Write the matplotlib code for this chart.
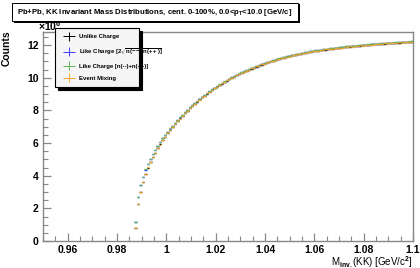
import matplotlib
matplotlib.use("Agg")
import matplotlib.pyplot as plt
from matplotlib.patches import Rectangle
from matplotlib.ticker import MultipleLocator, FormatStrFormatter
from matplotlib.legend_handler import HandlerErrorbar
from matplotlib.container import ErrorbarContainer
import numpy as np

# bin centres (GeV/c^2), 1 MeV bins starting at KK threshold
bin_lo = 0.9875
bin_w = 0.001
n_bins = 113
mass = bin_lo + bin_w * np.arange(n_bins)

# counts in units of 1e6
unlike = [
    0.80, 2.25, 3.03, 3.60, 4.10, 4.50, 4.82, 5.13, 5.42, 5.67,
    5.92, 6.16, 6.38, 6.59, 6.79, 6.98, 7.16, 7.34, 7.51, 7.67,
    7.83, 7.98, 8.13, 8.27, 8.41, 8.54, 8.67, 8.79, 8.91, 9.03,
    9.14, 9.25, 9.35, 9.45, 9.55, 9.64, 9.73, 9.82, 9.91, 9.99,
    10.07, 10.15, 10.22, 10.29, 10.36, 10.43, 10.50, 10.56, 10.62, 10.68,
    10.74, 10.80, 10.85, 10.90, 10.95, 11.00, 11.05, 11.10, 11.14, 11.18,
    11.22, 11.26, 11.30, 11.34, 11.38, 11.41, 11.44, 11.47, 11.50, 11.53,
    11.56, 11.59, 11.62, 11.64, 11.66, 11.68, 11.70, 11.72, 11.74, 11.76,
    11.78, 11.80, 11.82, 11.84, 11.86, 11.88, 11.90, 11.91, 11.92, 11.94,
    11.95, 11.97, 11.98, 12.00, 12.01, 12.02, 12.04, 12.05, 12.06, 12.07,
    12.08, 12.09, 12.10, 12.11, 12.12, 12.13, 12.14, 12.15, 12.16, 12.17,
    12.18, 12.19, 12.20,
]
like_geo = [
    1.15, 2.68, 3.44, 3.92, 4.37, 4.73, 5.02, 5.31, 5.58, 5.82,
    6.05, 6.28, 6.49, 6.69, 6.88, 7.06, 7.24, 7.41, 7.58, 7.73,
    7.89, 8.04, 8.18, 8.32, 8.45, 8.58, 8.71, 8.83, 8.95, 9.06,
    9.17, 9.28, 9.38, 9.48, 9.58, 9.67, 9.76, 9.85, 9.94, 10.02,
    10.10, 10.18, 10.25, 10.32, 10.39, 10.46, 10.53, 10.59, 10.65, 10.71,
    10.77, 10.83, 10.88, 10.93, 10.98, 11.03, 11.08, 11.13, 11.17, 11.21,
    11.25, 11.29, 11.33, 11.37, 11.41, 11.44, 11.47, 11.50, 11.53, 11.56,
    11.59, 11.62, 11.65, 11.67, 11.69, 11.71, 11.73, 11.75, 11.77, 11.79,
    11.81, 11.83, 11.85, 11.87, 11.89, 11.91, 11.92, 11.93, 11.94, 11.96,
    11.97, 11.99, 12.00, 12.02, 12.03, 12.04, 12.06, 12.07, 12.08, 12.09,
    12.10, 12.11, 12.12, 12.13, 12.14, 12.15, 12.16, 12.17, 12.18, 12.19,
    12.20, 12.21, 12.22,
]
like_arith = [
    1.17, 2.70, 3.46, 3.93, 4.38, 4.74, 5.03, 5.32, 5.59, 5.83,
    6.06, 6.29, 6.50, 6.70, 6.89, 7.07, 7.25, 7.42, 7.59, 7.74,
    7.90, 8.05, 8.19, 8.33, 8.46, 8.59, 8.72, 8.84, 8.96, 9.07,
    9.18, 9.29, 9.39, 9.49, 9.59, 9.68, 9.77, 9.86, 9.95, 10.03,
    10.11, 10.19, 10.26, 10.33, 10.40, 10.47, 10.54, 10.60, 10.66, 10.72,
    10.78, 10.84, 10.89, 10.94, 10.99, 11.04, 11.09, 11.14, 11.18, 11.22,
    11.26, 11.30, 11.34, 11.38, 11.42, 11.45, 11.48, 11.51, 11.54, 11.57,
    11.60, 11.63, 11.66, 11.68, 11.70, 11.72, 11.74, 11.76, 11.78, 11.80,
    11.82, 11.84, 11.86, 11.88, 11.90, 11.92, 11.93, 11.94, 11.95, 11.97,
    11.98, 12.00, 12.01, 12.03, 12.04, 12.05, 12.07, 12.08, 12.09, 12.10,
    12.11, 12.12, 12.13, 12.14, 12.15, 12.16, 12.17, 12.18, 12.19, 12.20,
    12.21, 12.22, 12.23,
]
mixing = [
    0.78, 2.26, 3.02, 3.61, 4.09, 4.51, 4.81, 5.14, 5.41, 5.68,
    5.91, 6.17, 6.37, 6.60, 6.78, 6.99, 7.15, 7.35, 7.50, 7.68,
    7.82, 7.99, 8.12, 8.28, 8.40, 8.55, 8.66, 8.80, 8.90, 9.04,
    9.13, 9.26, 9.34, 9.46, 9.54, 9.65, 9.72, 9.83, 9.90, 10.00,
    10.06, 10.16, 10.21, 10.30, 10.35, 10.44, 10.49, 10.57, 10.61, 10.69,
    10.73, 10.81, 10.84, 10.91, 10.94, 11.01, 11.04, 11.11, 11.13, 11.19,
    11.21, 11.27, 11.29, 11.35, 11.37, 11.42, 11.43, 11.48, 11.49, 11.54,
    11.55, 11.60, 11.61, 11.65, 11.65, 11.69, 11.69, 11.73, 11.73, 11.77,
    11.77, 11.81, 11.81, 11.85, 11.85, 11.89, 11.89, 11.92, 11.91, 11.95,
    11.94, 11.98, 11.97, 12.01, 12.00, 12.03, 12.03, 12.06, 12.05, 12.08,
    12.07, 12.10, 12.09, 12.12, 12.11, 12.14, 12.13, 12.16, 12.15, 12.18,
    12.17, 12.20, 12.19,
]

labels = [
    "Unlike Charge",
    r"Like Charge [2$\sqrt{n(--)n(++)}$]",
    "Like Charge [n(--)+n(++)]",
    "Event Mixing",
]
colors = ["black", "#3b3bff", "#5cb85c", "#f5a623"]
title = r"Pb+Pb, KK Invariant Mass Distributions, cent. 0-100%, 0.0<p$_{T}$<10.0 [GeV/c]"

plt.rcParams.update({
    "font.family": "Liberation Sans",
    "font.weight": "bold",
    "mathtext.fontset": "custom",
    "mathtext.rm": "Liberation Sans:bold",
    "mathtext.it": "Liberation Sans:bold",
    "mathtext.bf": "Liberation Sans:bold",
    "mathtext.default": "bf",
})

W, H = 420, 268
fig = plt.figure(figsize=(W / 100, H / 100), dpi=100)
fig.patch.set_facecolor("white")
ax = fig.add_axes([43 / W, 1 - 241 / H, 370 / W, 209 / H])

series = [unlike, like_geo, like_arith, mixing]
handles = []
for vals, col, lab in zip(series, colors, labels):
    ax.errorbar(mass, vals, xerr=bin_w / 2, fmt="none",
                ecolor=col, elinewidth=1.0, capsize=0)
    # legend entry: ROOT-style cross
    h = ax.errorbar([], [], xerr=1, yerr=1, fmt="none", ecolor=col,
                    elinewidth=0.7, capsize=0, label=lab)
    handles.append(h)

ax.set_xlim(0.95, 1.1)
ax.set_ylim(0, 12.8)

ax.xaxis.set_major_locator(MultipleLocator(0.02))
ax.xaxis.set_minor_locator(MultipleLocator(0.005))
ax.xaxis.set_major_formatter(FormatStrFormatter("%g"))
ax.yaxis.set_major_locator(MultipleLocator(2))
ax.yaxis.set_minor_locator(MultipleLocator(0.5))
ax.tick_params(which="both", direction="in", top=False, right=False,
               color="#888888", labelsize=7.5, pad=3)
ax.tick_params(which="major", length=6, width=0.9)
ax.tick_params(which="minor", length=3.5, width=0.8)
for lab in ax.get_xticklabels() + ax.get_yticklabels():
    lab.set_fontweight("bold")
for sp in ax.spines.values():
    sp.set_color("#888888")
    sp.set_linewidth(1.0)

ax.set_xlabel(r"M$_{inv.}$(KK) [GeV/c$^{2}$]", fontsize=7.0, ha="right", va="baseline")
ax.xaxis.set_label_coords(1.0, -(265.5 - 241) / 209)
fig.text(7 / W, 1 - 30 / H, "Counts", fontsize=7.5, rotation=90, ha="center", va="top")
fig.text(38 / W, 1 - 31 / H, r"$\times$10$^{6}$", fontsize=7.5, ha="left", va="baseline")

leg = ax.legend(handles=handles, loc="upper left",
                bbox_to_anchor=(55 / W, 1 - 31 / H, 84 / W, 0.01),
                bbox_transform=fig.transFigure, mode="expand",
                fontsize=4.3, labelspacing=1.15, handlelength=2.6,
                handletextpad=0.5, borderpad=1.0, borderaxespad=0,
                fancybox=False, framealpha=1,
                handler_map={ErrorbarContainer: HandlerErrorbar(xerr_size=1.0, yerr_size=0.75)},
                shadow={"facecolor": "black", "edgecolor": "black", "alpha": 1})
leg.get_frame().set_facecolor("#f5f5f5")
leg.get_frame().set_edgecolor("black")
leg.get_frame().set_linewidth(0.8)

# title box with ROOT-style shadow
fig.patches.append(Rectangle((14 / W, 1 - 23 / H), 286 / W, 19 / H,
                             transform=fig.transFigure, facecolor="black",
                             edgecolor="black", lw=0))
fig.patches.append(Rectangle((12 / W, 1 - 21 / H), 286 / W, 18 / H,
                             transform=fig.transFigure, facecolor="white",
                             edgecolor="black", lw=0.7))
fig.text(155 / W, 1 - 12 / H, title, fontsize=5.6, ha="center", va="center")

fig.savefig("out.png", dpi=100)
